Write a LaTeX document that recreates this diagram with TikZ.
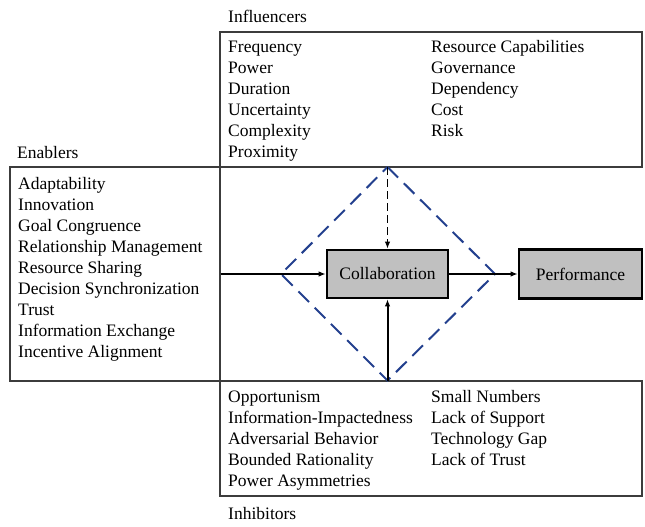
\documentclass[tikz,border=0pt]{standalone}
\usepackage{fontspec}
\setmainfont{Liberation Serif}
\usetikzlibrary{arrows.meta}
\definecolor{diamondblue}{RGB}{35,64,142}
\definecolor{boxgray}{RGB}{192,192,192}
\definecolor{framegray}{RGB}{60,60,60}
\begin{document}
\begin{tikzpicture}[x=1pt,y=-1pt,
  txt/.style={anchor=base west,inner sep=0pt,font=\fontsize{17.5}{21}\selectfont},
  framebox/.style={draw=framegray,line width=1.1pt,inner sep=0pt},
  corebox/.style={draw=black,line width=2.6pt,fill=boxgray,inner sep=0pt,
    font=\fontsize{17.5}{21}\selectfont},
  link/.style={line width=1.5pt,-{Latex[length=7pt,width=5.5pt]}},
  outline/.style={draw=diamondblue,line width=2pt,dash pattern=on 15pt off 8pt}]
\useasboundingbox (0,0) rectangle (645,527);

% outer frames
\node[framebox,minimum width=422pt,minimum height=135pt] (infl) at (431,99.5) {};
\node[framebox,minimum width=210pt,minimum height=214pt] (enab) at (115,274) {};
\node[framebox,minimum width=422pt,minimum height=115pt] (inhib) at (431,438.5) {};

% headings
\node[txt] (hinfl) at (228,23) {Influencers};
\node[txt] (henab) at (17,158) {Enablers};
\node[txt] (hinhib) at (228,519) {Inhibitors};

% influencers
\node[txt] (i1) at (228,52.5) {Frequency};
\node[txt] (i2) at (228,73.5) {Power};
\node[txt] (i3) at (228,94.5) {Duration};
\node[txt] (i4) at (228,115.5) {Uncertainty};
\node[txt] (i5) at (228,136.5) {Complexity};
\node[txt] (i6) at (228,157.5) {Proximity};
\node[txt] (i7) at (431,52.5) {Resource Capabilities};
\node[txt] (i8) at (431,73.5) {Governance};
\node[txt] (i9) at (431,94.5) {Dependency};
\node[txt] (i10) at (431,115.5) {Cost};
\node[txt] (i11) at (431,136.5) {Risk};

% enablers
\node[txt] (e1) at (18,189.5) {Adaptability};
\node[txt] (e2) at (18,210.5) {Innovation};
\node[txt] (e3) at (18,231.5) {Goal Congruence};
\node[txt] (e4) at (18,252) {Relationship Management};
\node[txt] (e5) at (18,273) {Resource Sharing};
\node[txt] (e6) at (18,294) {Decision Synchronization};
\node[txt] (e7) at (18,315) {Trust};
\node[txt] (e8) at (18,336) {Information Exchange};
\node[txt] (e9) at (18,357.5) {Incentive Alignment};

% inhibitors
\node[txt] (h1) at (228,402.5) {Opportunism};
\node[txt] (h2) at (228,423.5) {Information-Impactedness};
\node[txt] (h3) at (228,444) {Adversarial Behavior};
\node[txt] (h4) at (228,465) {Bounded Rationality};
\node[txt] (h5) at (228,486.5) {Power Asymmetries};
\node[txt] (h6) at (431,402.5) {Small Numbers};
\node[txt] (h7) at (431,423.5) {Lack of Support};
\node[txt] (h8) at (431,444) {Technology Gap};
\node[txt] (h9) at (431,465) {Lack of Trust};

% core boxes
\node[corebox,minimum width=121pt,minimum height=48pt] (collab) at (387.5,274) {Collaboration};
\node[corebox,minimum width=123pt,minimum height=49pt] (perf) at (580.5,274) {Performance};

% dashed diamond
\coordinate (dtop) at (387.5,167);
\coordinate (dleft) at (281,274);
\coordinate (dright) at (495,274);
\coordinate (dbot) at (387.5,380.5);
\draw[outline] (dtop) -- (dright) -- (dbot) -- (dleft) -- cycle;

% connectors
\draw[link] (enab.east |- collab.west) -- (collab.west);
\draw[link] (collab.east) -- (perf.west);
\draw[link,dash pattern=on 8pt off 4pt] (dtop) -- (collab.north);
\draw[link,line width=2pt] (dbot) -- (collab.south);
\end{tikzpicture}
\end{document}
